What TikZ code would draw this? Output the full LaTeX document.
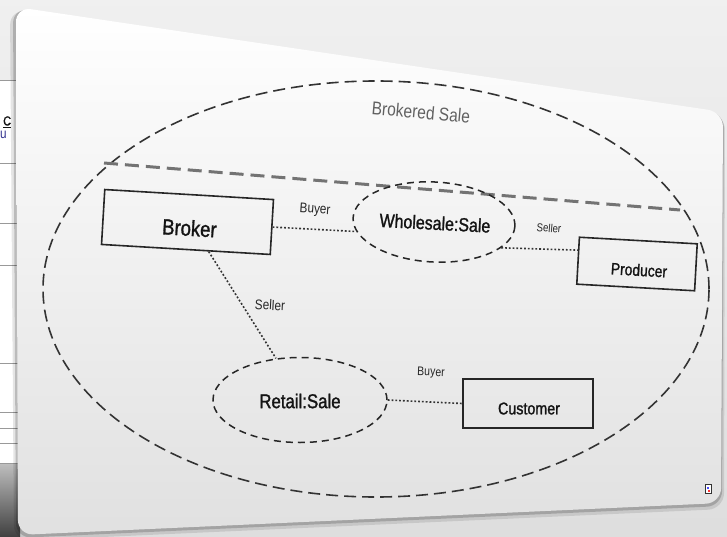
\documentclass[tikz,border=0pt]{standalone}
\usepackage{fontspec}
\setmainfont{Liberation Sans}[FakeStretch=0.84]
\newfontfamily\heavyfont{Liberation Sans}[FakeStretch=0.84, FakeBold=1.3]
\usetikzlibrary{shapes.geometric}
\begin{document}
\begin{tikzpicture}[x=1pt,y=-1pt,
  box/.style={draw=black!85, line width=1.6pt, rectangle, inner sep=0pt},
  ell/.style={draw=black!85, line width=1.5pt, ellipse, inner sep=0pt, dash pattern=on 7pt off 5pt},
  bigell/.style={draw=black!80, line width=1.6pt, ellipse, inner sep=0pt, dash pattern=on 12pt off 6pt},
  conn/.style={draw=black!80, line width=1.6pt, dash pattern=on 1.8pt off 2pt},
  lbl/.style={inner sep=0pt, text=black!85},
  nametext/.style={inner sep=0pt, text=black!92, font=\heavyfont\fontsize{#1}{#1}\selectfont},
  fs/.style={font=\fontsize{#1}{#1}\selectfont}
]
\useasboundingbox (0,0) rectangle (727,537);
% background
\shade[top color=black!6, bottom color=black!13] (0,0) rectangle (727,537);
% partial window at the left
\fill[white] (0,80) rectangle (20,463);
\shade[top color=black!25, bottom color=black!75] (0,463) rectangle (20,537);
\foreach \yy in {80,163,223,265,363,412,428,443,463}
  \draw[black!40, line width=0.8pt] (0,\yy) -- (20,\yy);
\node[nametext=13, anchor=west] (wc) at (3,122) {\underline{C}};
\node[fs=14, anchor=west, inner sep=0pt, text=blue!45!black!80] (wu) at (0,135) {u};
% card shadow
\fill[black, opacity=0.10, rounded corners=16pt] (10,9) -- (725,114) -- (724,509) -- (14,541) -- cycle;
\fill[black, opacity=0.18, rounded corners=15pt] (13,8) -- (724,113) -- (722,506) -- (16,538) -- cycle;
% card
\shade[rounded corners=15pt, top color=white, bottom color=black!12]
  (16,7) -- (723,112) -- (721,503) -- (18,535) -- cycle;
% outer collaboration
\node[bigell, minimum width=666pt, minimum height=416pt] (outer) at (376,289) {};
\node[fs=18.5, text=black!62, rotate=-5, inner sep=0pt] (title) at (421,112) {Brokered Sale};
\coordinate (gl) at (104,163);
\coordinate (gr) at (680,210);
\draw[black!55, line width=3pt, dash pattern=on 14pt off 7pt] (gl) -- (gr);
% nodes
\node[box, minimum width=169pt, minimum height=55pt, rotate=-3.4] (broker) at (187.5,222) {};
\node[nametext=22, rotate=-3.4] (brokerT) at ([shift={(2,6)}]broker.center) {Broker};
\node[ell, minimum width=162pt, minimum height=80pt, rotate=-3] (whole) at (434,222) {};
\node[nametext=19, rotate=-3] (wholeT) at ([shift={(1,1)}]whole.center) {Wholesale:Sale};
\node[box, minimum width=118pt, minimum height=47pt, rotate=-3.2] (producer) at (637,264) {};
\node[nametext=16.5, rotate=-3.2] (producerT) at ([shift={(2,6)}]producer.center) {Producer};
\node[ell, minimum width=174pt, minimum height=85pt] (retail) at (300,400) {};
\node[nametext=20] (retailT) at ([shift={(0,1)}]retail.center) {Retail:Sale};
\node[box, minimum width=130pt, minimum height=49pt] (customer) at (528,403.5) {};
\node[nametext=17] (customerT) at ([shift={(1,5)}]customer.center) {Customer};
% connectors
\draw[conn] (broker.east) -- (whole.190);
\draw[conn] (whole.-18) -- (producer.170);
\draw[conn] (broker.-51) -- (retail.120);
\draw[conn] (retail.east) -- (customer.west);
% role labels
\node[lbl, fs=14, rotate=-4] (l1) at (315,210) {Buyer};
\node[lbl, fs=11.5, rotate=-5] (l2) at (549,228) {Seller};
\node[lbl, fs=14, rotate=-3] (l3) at (270,305) {Seller};
\node[lbl, fs=12.5, rotate=-2] (l4) at (431,373) {Buyer};
% small icon
\node[draw=black!80, fill=white, line width=0.8pt, minimum width=6pt, minimum height=9pt, inner sep=0pt] (icon) at (708,489) {};
\fill[blue!70] (706.5,487) rectangle (708.5,489);
\fill[red!80] (708,489.5) rectangle (710,491.5);
\end{tikzpicture}
\end{document}
